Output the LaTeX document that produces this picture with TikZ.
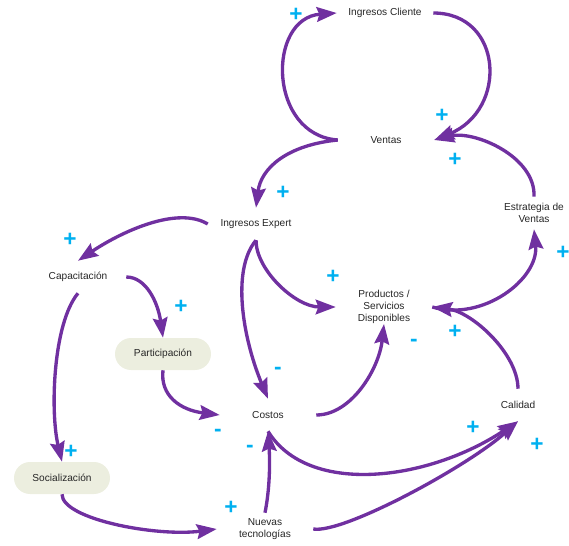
\documentclass[tikz,border=0pt]{standalone}
\usepackage{fontspec}
\setmainfont{Liberation Sans}
\usetikzlibrary{arrows.meta}

\begin{document}
\begin{tikzpicture}[x=0.75pt, y=-0.75pt,
  nodo/.style={minimum width=72pt, minimum height=24pt, inner sep=0pt, align=center,
    text=textGris, font=\fontsize{7.6}{9}\selectfont},
  caja/.style={nodo, fill=cajaVerde, rounded corners=12pt},
  flecha/.style={draw=morado, line width=2.5pt, -{Stealth[length=15pt,width=11pt,inset=2pt]}},
  signo/.style={text=celeste, font=\fontsize{17}{17}\selectfont\bfseries, inner sep=0pt}]

% Colores
\definecolor{morado}{HTML}{7030A0}
\definecolor{celeste}{HTML}{00B0F0}
\definecolor{cajaVerde}{HTML}{ECEEDF}
\definecolor{textGris}{HTML}{262626}

\useasboundingbox (0,0) rectangle (569,546);

% Variables
\node[nodo] (ingCli) at (385,13) {Ingresos Cliente};
\node[nodo] (ventas) at (386,140) {Ventas};
\node[nodo] (ingExp) at (256,224) {Ingresos Expert};
\node[nodo] (capac) at (78,277) {Capacitación};
\node[caja] (partic) at (163,354) {Participación};
\node[nodo] (prod) at (384,307) {Productos /\\ Servicios\\ Disponibles};
\node[nodo] (estrat) at (534,213) {Estrategia de\\ Ventas};
\node[nodo] (costos) at (268,415) {Costos};
\node[nodo] (calidad) at (518,405) {Calidad};
\node[caja] (social) at (62,478) {Socialización};
\node[nodo] (nuevas) at (265,529) {Nuevas\\ tecnologías};

% Bucle superior
\draw[flecha] (ventas.west) .. controls +(-70,-5) and +(-70,5) .. (ingCli.west);
\draw[flecha] (ingCli.east) .. controls +(70,0) and +(74,-30) .. (ventas.east);
\draw[flecha] (estrat.north) .. controls +(2,-40) and +(40,-10) .. (ventas.east);
\draw[flecha] (ventas.west) .. controls +(-50,5) and +(5,-40) .. (ingExp.north);

% Desde Ingresos Expert
\draw[flecha] (ingExp.west) .. controls +(-30,-18) and +(45,-30) .. (capac.north);
\draw[flecha] (ingExp.south) .. controls +(0,30) and +(-40,0) .. (prod.west);
\draw[flecha] (ingExp.south) .. controls +(-25,30) and +(-25,-60) .. (costos.north);

% Desde Capacitacion
\draw[flecha] (capac.east) .. controls +(20,0) and +(-5,-35) .. (partic.north);
\draw[flecha] (capac.south) .. controls +(-25,30) and +(-12,-50) .. (social.north);
\draw[flecha] (partic.south) .. controls +(-3,25) and +(-40,-5) .. (costos.west);

% Productos, Estrategia y Calidad
\draw[flecha] (costos.east) .. controls +(35,0) and +(-5,45) .. (prod.south);
\draw[flecha] (calidad.north) .. controls +(0,-35) and +(40,5) .. (prod.east);
\draw[flecha] (prod.east) .. controls +(50,15) and +(5,50) .. (estrat.south);
\draw[flecha] (costos.south) .. controls +(40,65) and +(-90,60) .. (calidad.south);
\draw[flecha] (nuevas.east) .. controls +(30,5) and +(-50,45) .. (calidad.south);
\draw[flecha] (nuevas.north) .. controls +(5,-25) and +(2,30) .. (costos.south);
\draw[flecha] (social.south) .. controls +(0,25) and +(-60,8) .. (nuevas.west);

% Polaridades
\node[signo] (s1) at (296,15) {+};
\node[signo] (s2) at (442,116) {+};
\node[signo] (s3) at (455,160) {+};
\node[signo] (s4) at (283,193) {+};
\node[signo] (s5) at (70,240) {+};
\node[signo] (s6) at (333,277) {+};
\node[signo] (s7) at (278,371) {-};
\node[signo] (s8) at (181,307) {+};
\node[signo] (s9) at (71,452) {+};
\node[signo] (s10) at (218,433) {-};
\node[signo] (s11) at (414,343) {-};
\node[signo] (s12) at (455,332) {+};
\node[signo] (s13) at (563,253) {+};
\node[signo] (s14) at (473,428) {+};
\node[signo] (s15) at (537,445) {+};
\node[signo] (s16) at (250,449) {-};
\node[signo] (s17) at (231,508) {+};

\end{tikzpicture}
\end{document}
